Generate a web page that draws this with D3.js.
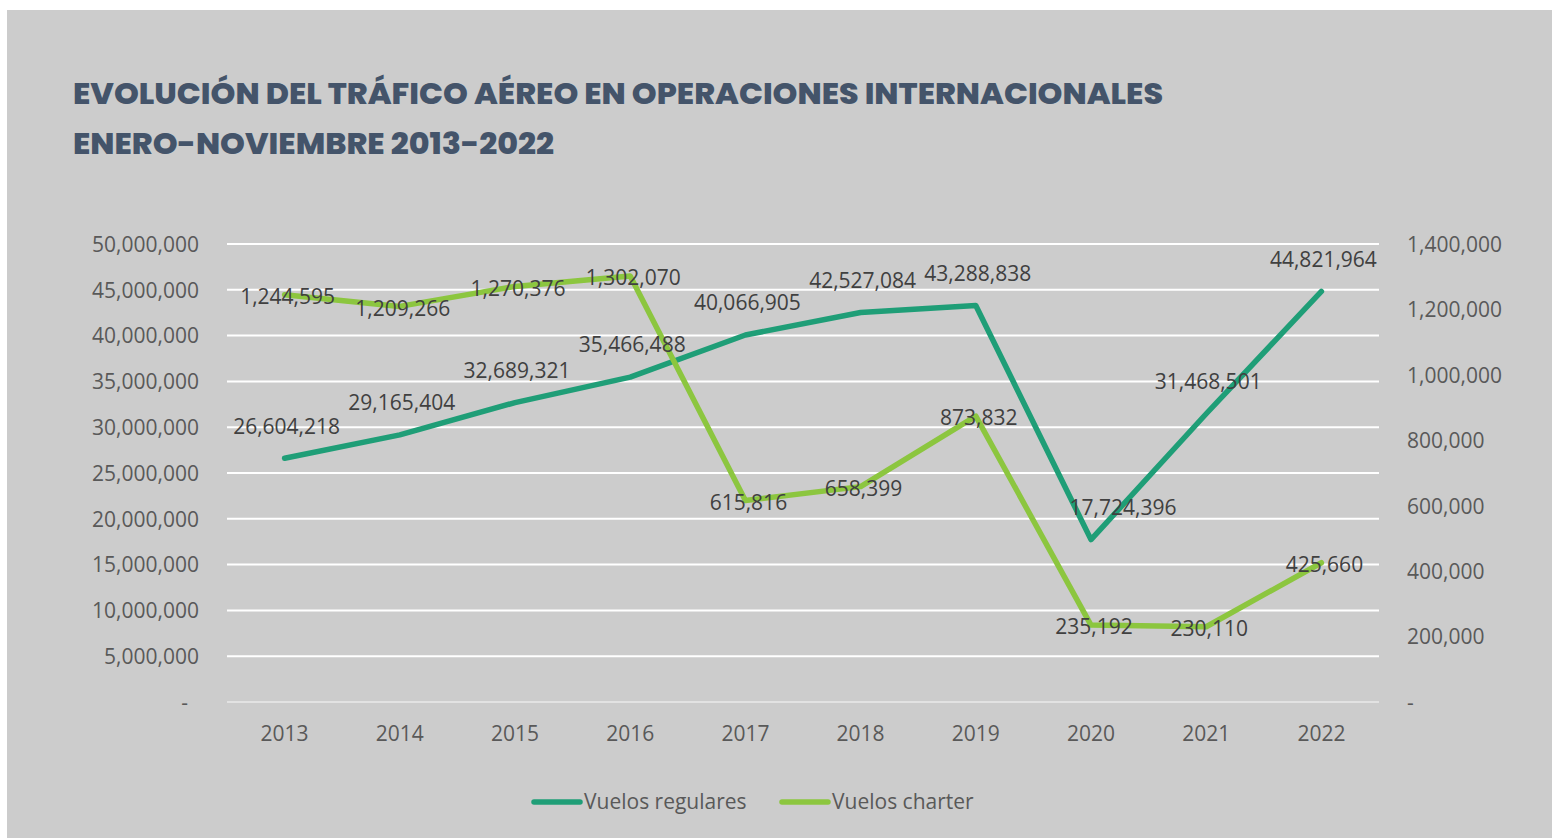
<!DOCTYPE html>
<html lang="es">
<head>
<meta charset="utf-8">
<title>Evolución del tráfico aéreo en operaciones internacionales</title>
<script src="https://cdn.jsdelivr.net/npm/d3@7"></script>
<style>
  html, body { margin: 0; padding: 0; background: #ffffff; }
  svg { display: block; }
</style>
</head>
<body>
<svg id="chart" width="1552" height="838"></svg>
<script>
// Años (enero-noviembre de cada año)
const years = ["2013", "2014", "2015", "2016", "2017", "2018", "2019", "2020", "2021", "2022"];

// Pasajeros en vuelos regulares (eje izquierdo)
const vuelosRegulares = [26604218, 29165404, 32689321, 35466488, 40066905, 42527084, 43288838, 17724396, 31468501, 44821964];

// Pasajeros en vuelos charter (eje derecho)
const vuelosCharter = [1244595, 1209266, 1270376, 1302070, 615816, 658399, 873832, 235192, 230110, 425660];

// Marcas de los ejes
const leftTicks = [0, 5000000, 10000000, 15000000, 20000000, 25000000, 30000000, 35000000, 40000000, 45000000, 50000000];
const rightTicks = [0, 200000, 400000, 600000, 800000, 1000000, 1200000, 1400000];

const seriesNames = ["Vuelos regulares", "Vuelos charter"];

// ---- estilos y geometría ----
const COLOR_REG = "#1f9e77";
const COLOR_CHA = "#8cc63f";
const AXIS_TEXT = "#595959";
const LABEL_TEXT = "#404040";
const FONT = "'Open Sans', 'Liberation Sans', sans-serif";

const plot = { left: 227, right: 1379, top: 244, bottom: 702 };

const svg = d3.select("#chart");

// fondo del panel
svg.append("rect")
  .attr("x", 7).attr("y", 10)
  .attr("width", 1552 - 7).attr("height", 838 - 10)
  .attr("fill", "#cccccc");

// título
const title = svg.append("g")
  .attr("font-family", "Poppins, 'Open Sans', sans-serif")
  .attr("font-weight", 800)
  .attr("font-size", 30)
  .attr("fill", "#44546a");
title.append("text")
  .attr("x", 73).attr("y", 104)
  .attr("textLength", 1090).attr("lengthAdjust", "spacingAndGlyphs")
  .text("EVOLUCIÓN DEL TRÁFICO AÉREO EN OPERACIONES INTERNACIONALES");
title.append("text")
  .attr("x", 73).attr("y", 154)
  .attr("textLength", 481).attr("lengthAdjust", "spacingAndGlyphs")
  .text("ENERO-NOVIEMBRE 2013-2022");

// escalas
const x = d3.scaleBand().domain(years).range([plot.left, plot.right]).padding(0);
const yL = d3.scaleLinear().domain([0, 50000000]).range([plot.bottom, plot.top]);
const yR = d3.scaleLinear().domain([0, 1400000]).range([plot.bottom, plot.top]);
const cx = d => x(d) + x.bandwidth() / 2;

const fmt = d3.format(",");
const tickFmt = v => v === 0 ? "-" : fmt(v);

// líneas de cuadrícula
svg.append("g")
  .selectAll("line")
  .data(leftTicks)
  .join("line")
  .attr("x1", plot.left).attr("x2", plot.right)
  .attr("y1", d => yL(d)).attr("y2", d => yL(d))
  .attr("stroke", d => d === 0 ? "#e2e2e2" : "#ffffff")
  .attr("stroke-width", 2);

// eje izquierdo
const axisL = svg.append("g")
  .attr("transform", `translate(${plot.left - 28},0)`)
  .call(d3.axisLeft(yL).tickValues(leftTicks).tickFormat(tickFmt).tickSize(0).tickPadding(0));
axisL.select(".domain").remove();
axisL.selectAll("text")
  .attr("font-family", FONT).attr("font-size", 21).attr("fill", AXIS_TEXT)
  .attr("dy", "0.35em")
  .attr("dx", d => d === 0 ? -11 : 0);

// eje derecho
const axisR = svg.append("g")
  .attr("transform", `translate(${plot.right + 28},0)`)
  .call(d3.axisRight(yR).tickValues(rightTicks).tickFormat(tickFmt).tickSize(0).tickPadding(0));
axisR.select(".domain").remove();
axisR.selectAll("text")
  .attr("font-family", FONT).attr("font-size", 21).attr("fill", AXIS_TEXT)
  .attr("dy", "0.35em");

// eje de categorías
const axisX = svg.append("g")
  .attr("transform", `translate(0,${plot.bottom + 24})`)
  .call(d3.axisBottom(x).tickSize(0).tickPadding(0));
axisX.select(".domain").remove();
axisX.selectAll("text")
  .attr("font-family", FONT).attr("font-size", 21).attr("fill", AXIS_TEXT)
  .attr("dy", "0.71em");

// series
const regData = years.map((yr, i) => ({ yr, v: vuelosRegulares[i] }));
const chaData = years.map((yr, i) => ({ yr, v: vuelosCharter[i] }));

const lineReg = d3.line().x(d => cx(d.yr)).y(d => yL(d.v));
const lineCha = d3.line().x(d => cx(d.yr)).y(d => yR(d.v));

svg.append("path")
  .datum(regData)
  .attr("d", lineReg)
  .attr("fill", "none")
  .attr("stroke", COLOR_REG)
  .attr("stroke-width", 5.5)
  .attr("stroke-linejoin", "round")
  .attr("stroke-linecap", "round");

svg.append("path")
  .datum(chaData)
  .attr("d", lineCha)
  .attr("fill", "none")
  .attr("stroke", COLOR_CHA)
  .attr("stroke-width", 5.5)
  .attr("stroke-linejoin", "round")
  .attr("stroke-linecap", "round");

// etiquetas de datos
const regNudge = { "2020": 30 };

svg.append("g")
  .selectAll("text")
  .data(regData)
  .join("text")
  .attr("x", d => cx(d.yr) + 2 + (regNudge[d.yr] || 0))
  .attr("y", d => yL(d.v) - 32)
  .attr("dy", "0.35em")
  .attr("text-anchor", "middle")
  .attr("font-family", FONT).attr("font-size", 21).attr("fill", LABEL_TEXT)
  .text(d => fmt(d.v));

svg.append("g")
  .selectAll("text")
  .data(chaData)
  .join("text")
  .attr("x", d => cx(d.yr) + 3)
  .attr("y", d => yR(d.v) + 2)
  .attr("dy", "0.35em")
  .attr("text-anchor", "middle")
  .attr("font-family", FONT).attr("font-size", 21).attr("fill", LABEL_TEXT)
  .text(d => fmt(d.v));

// leyenda
const legendItems = [
  { name: seriesNames[0], color: COLOR_REG, x: 534 },
  { name: seriesNames[1], color: COLOR_CHA, x: 782 }
];
const lg = svg.append("g");
const li = lg.selectAll("g").data(legendItems).join("g")
  .attr("transform", d => `translate(${d.x},802)`);
li.append("line")
  .attr("x1", 0).attr("x2", 46)
  .attr("stroke", d => d.color)
  .attr("stroke-width", 5.5)
  .attr("stroke-linecap", "round");
li.append("text")
  .attr("x", 50).attr("dy", "0.35em")
  .attr("font-family", FONT).attr("font-size", 21).attr("fill", AXIS_TEXT)
  .text(d => d.name);
</script>
</body>
</html>
